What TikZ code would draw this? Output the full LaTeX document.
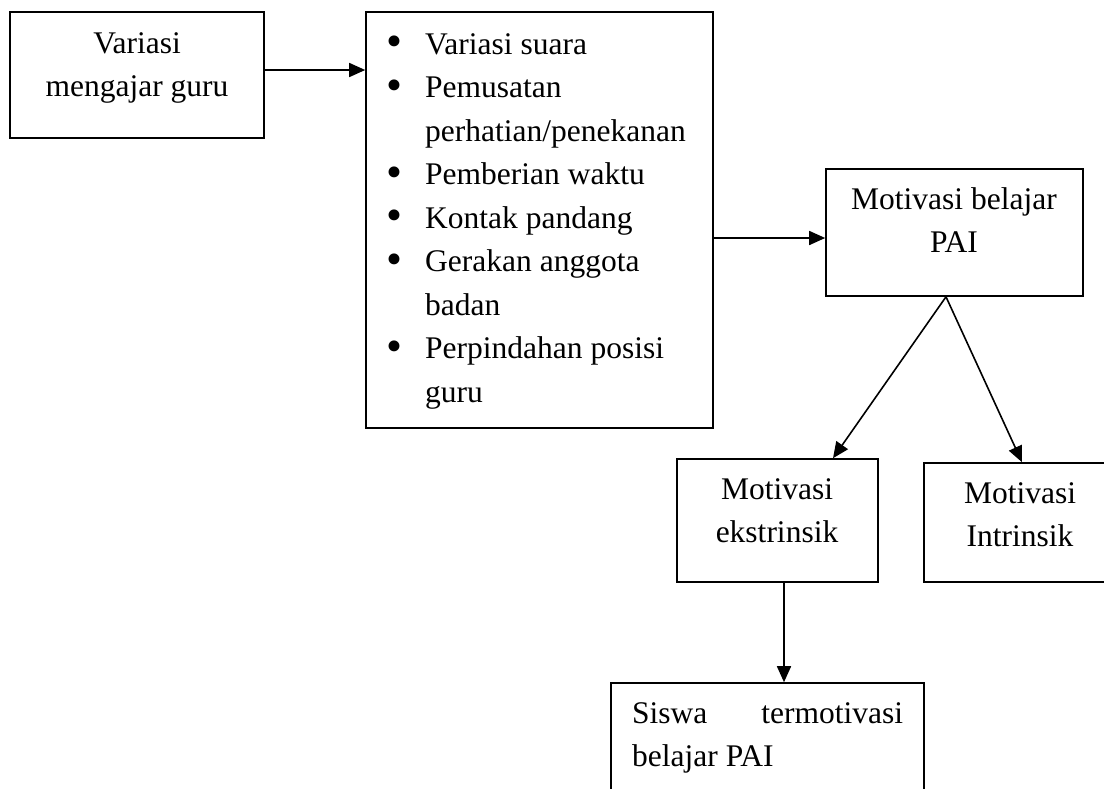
\documentclass[tikz,border=0pt]{standalone}
\usepackage{fontspec}
\setmainfont{Liberation Serif}
\usetikzlibrary{arrows.meta,calc}
\newcommand{\bigbul}{\raisebox{-2.5pt}{\scalebox{1.45}{\textbullet}}}
\begin{document}
\begin{tikzpicture}[x=1pt,y=-1pt,
  box/.style={draw, line width=1.6pt, inner sep=0pt},
  txt/.style={inner sep=0pt, font=\fontsize{31.5}{43.5}\selectfont},
  arr/.style={line width=1.6pt, -{Triangle[length=16pt,width=14pt]}}]
\useasboundingbox (0,0) rectangle (1104,788);
\fill[white] (0,0) rectangle (1104,788);
\clip (0,0) rectangle (1104,788);
% boxes
\node[box, minimum width=254pt, minimum height=126pt] (A) at (137,75) {};
\node[box, minimum width=347pt, minimum height=416pt] (B) at (539.5,220) {};
\node[box, minimum width=257pt, minimum height=127pt] (C) at (954.5,232.5) {};
\node[box, minimum width=201pt, minimum height=123pt] (D) at (777.5,520.5) {};
\node[box, minimum width=192pt, minimum height=119pt] (E) at (1020,522.5) {};
\node[box, minimum width=313pt, minimum height=126pt] (F) at (767.5,746) {};
% texts
\node[txt, anchor=base] (At) at (137,53) {\begin{tabular}[t]{@{}c@{}}Variasi\\mengajar guru\end{tabular}};
\node[txt, anchor=base west] (Bt) at (386,54) {\begin{tabular}[t]{@{}p{39pt}@{}l@{}}
\bigbul & Variasi suara\\
\bigbul & Pemusatan\\
 & perhatian/penekanan\\
\bigbul & Pemberian waktu\\
\bigbul & Kontak pandang\\
\bigbul & Gerakan anggota\\
 & badan\\
\bigbul & Perpindahan posisi\\
 & guru
\end{tabular}};
\node[txt, anchor=base] (Ct) at (954,209) {\begin{tabular}[t]{@{}c@{}}Motivasi belajar\\PAI\end{tabular}};
\node[txt, anchor=base] (Dt) at (777,499) {\begin{tabular}[t]{@{}c@{}}Motivasi\\ekstrinsik\end{tabular}};
\node[txt, anchor=base] (Et) at (1020,503) {\begin{tabular}[t]{@{}c@{}}Motivasi\\Intrinsik\end{tabular}};
\node[txt, anchor=base west] (Ft) at (632,723) {\begin{tabular}[t]{@{}l@{}}\makebox[271pt][s]{Siswa\hfill termotivasi}\\belajar PAI\end{tabular}};
% connectors
\coordinate (abY) at (0,70);
\coordinate (bcY) at (0,238);
\draw[arr] (A.east |- abY) -- (B.west |- abY);
\draw[arr] (B.east |- bcY) -- (C.west |- bcY);
\coordinate (apex) at ([xshift=-8.5pt]C.south);
\draw[arr] (apex) -- ([xshift=55.5pt]D.north);
\draw[arr] (apex) -- ([xshift=2pt]E.north);
\coordinate (dOut) at ([xshift=6.5pt]D.south);
\draw[arr] (dOut) -- (dOut |- F.north);
\end{tikzpicture}
\end{document}
